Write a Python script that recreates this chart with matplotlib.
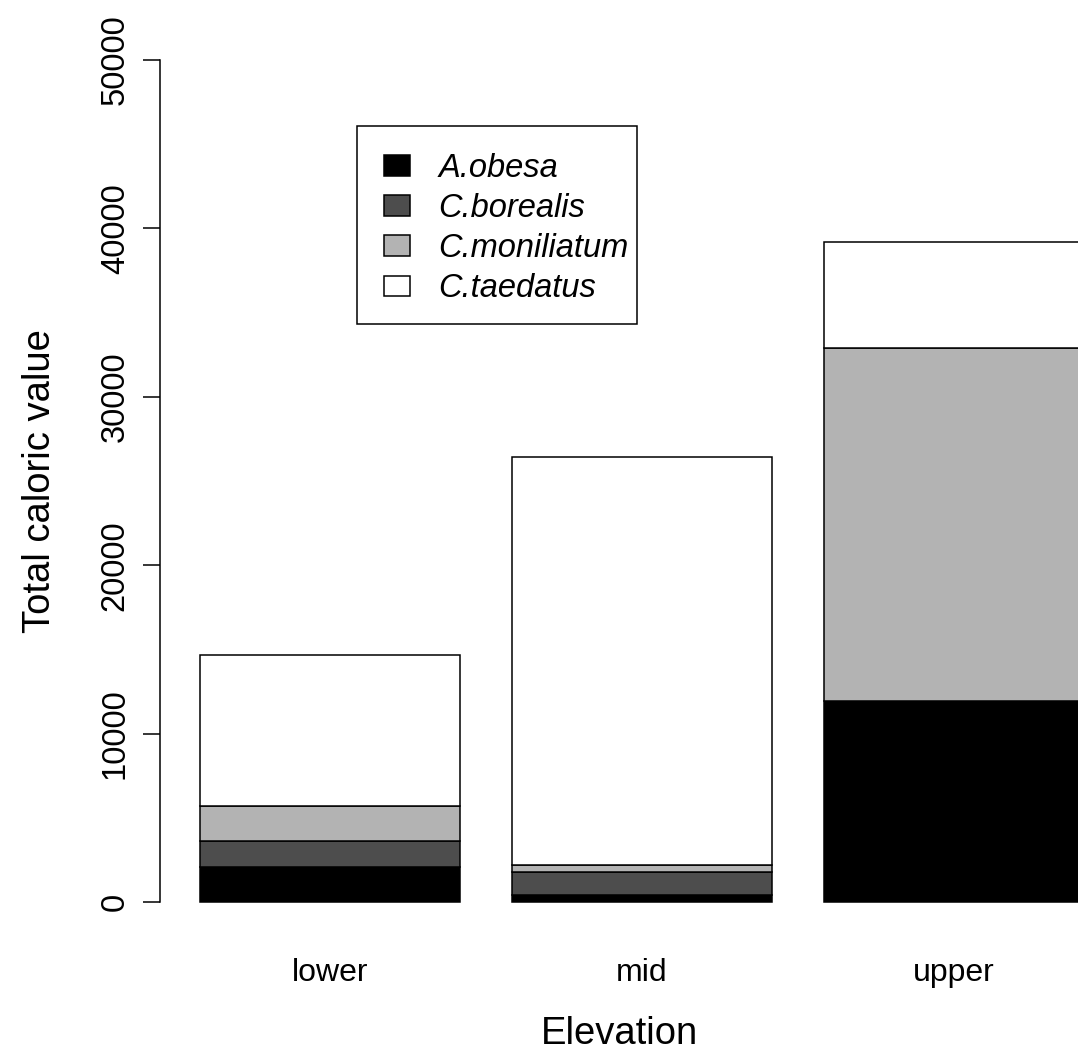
import matplotlib
matplotlib.use("Agg")
import matplotlib.pyplot as plt
from matplotlib.patches import Rectangle
import numpy as np

plt.rcParams["font.family"] = ["Liberation Sans", "DejaVu Sans"]

# data
elevations = ["lower", "mid", "upper"]
species = ["A.obesa", "C.borealis", "C.moniliatum", "C.taedatus"]
a_obesa = [2080, 390, 11940]
c_borealis = [1540, 1420, 0]
c_moniliatum = [2100, 390, 20980]
c_taedatus = [8950, 24200, 6260]
colours = ["#000000", "#4d4d4d", "#b3b3b3", "#ffffff"]

series = [a_obesa, c_borealis, c_moniliatum, c_taedatus]

W, H = 1078, 1062
fig = plt.figure(figsize=(W / 100, H / 100), dpi=100)
ax = fig.add_axes([160 / W, 0.1189, 1 - 160 / W, 0.9752 - 0.1189])

# R barplot layout: width 1, space 0.2
x = 0.2 + 1.2 * np.arange(len(elevations)) + 0.5
bottom = np.zeros(len(elevations))
handles = []
for name, vals, col in zip(species, series, colours):
    vals = np.array(vals, dtype=float)
    b = ax.bar(x, vals, width=1.0, bottom=bottom, color=col,
               edgecolor="black", linewidth=1.1, label=name)
    handles.append(b)
    bottom += vals

ax.set_xlim(0.0462, 3.5769)
ax.set_ylim(-2000, 52000)

for s in ["top", "right", "bottom"]:
    ax.spines[s].set_visible(False)
ax.spines["left"].set_bounds(0, 50000)
ax.spines["left"].set_linewidth(1.1)

ax.set_yticks(np.arange(0, 50001, 10000))
ax.set_yticklabels([str(v) for v in range(0, 50001, 10000)],
                   rotation=90, va="center", fontsize=23.5)
ax.tick_params(axis="y", length=12, width=1.1, pad=9)
ax.set_xticks(x)
ax.set_xticklabels(elevations, fontsize=23)
ax.tick_params(axis="x", length=0, pad=16)

ax.set_ylabel("Total caloric value", fontsize=27.5, labelpad=30)
ax.set_xlabel("Elevation", fontsize=27.5, labelpad=20)

# legend box drawn separately (R style: tight on the right)
ax.add_patch(Rectangle((357 / W, 1 - 324 / H), 280 / W, 198 / H,
                       transform=fig.transFigure, facecolor="white",
                       edgecolor="black", linewidth=1.1, zorder=5,
                       clip_on=False))
leg = ax.legend(handles=handles, labels=species,
                loc="upper left", bbox_to_anchor=(384 / W, 1 - 153 / H),
                bbox_transform=fig.transFigure,
                prop={"style": "italic", "size": 23.5},
                frameon=False,
                handlelength=0.8, handleheight=0.6, handletextpad=0.86,
                labelspacing=0.28, borderpad=0, borderaxespad=0)
leg.set_zorder(6)

fig.savefig("out.png", dpi=100)
